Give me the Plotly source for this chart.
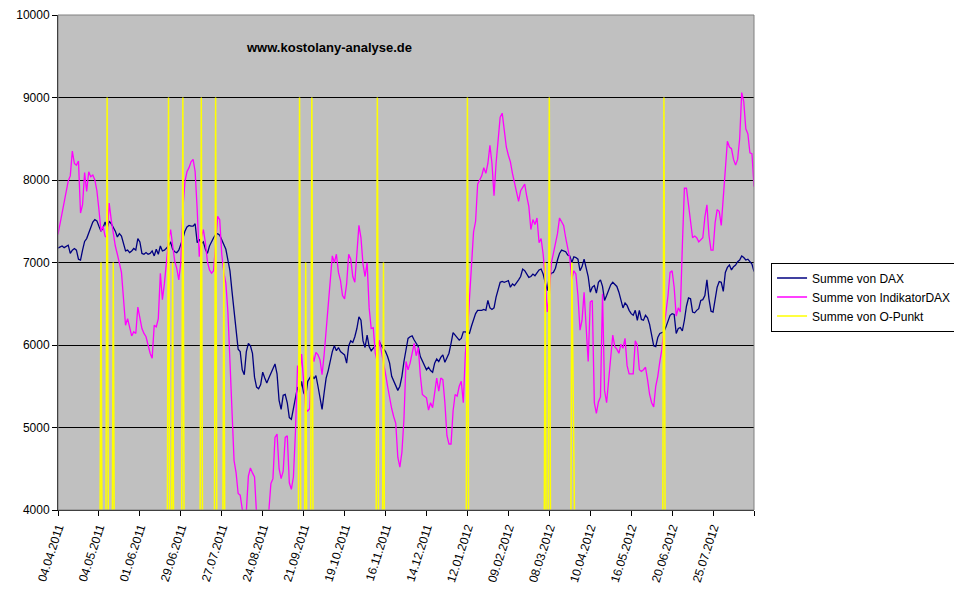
import plotly.graph_objects as go

# Trading-day index (category position) and tick labels every 20 days
tick_labels = ["04.04.2011", "04.05.2011", "01.06.2011", "29.06.2011", "27.07.2011",
               "24.08.2011", "21.09.2011", "19.10.2011", "16.11.2011", "14.12.2011",
               "12.01.2012", "09.02.2012", "08.03.2012", "10.04.2012", "16.05.2012",
               "20.06.2012", "25.07.2012", ""]
tick_step = 20
y_ticks = [4000, 5000, 6000, 7000, 8000, 9000, 10000]

dax = [7175, 7190, 7200, 7180, 7200, 7210, 7110, 7150, 7170, 7150,
       7040, 7030, 7150, 7255, 7290, 7360, 7430, 7490, 7520, 7505,
       7440, 7380, 7420, 7490, 7420, 7500, 7470, 7430, 7380, 7310,
       7350, 7320, 7240, 7140, 7150, 7120, 7140, 7170, 7150, 7290,
       7250, 7110, 7100, 7120, 7100, 7110, 7140, 7080, 7160, 7100,
       7200, 7140, 7150, 7180, 7200, 7250, 7160, 7130, 7120, 7150,
       7210, 7290, 7380, 7430, 7450, 7440, 7440, 7470, 7240, 7280,
       7230, 7250, 7160, 7110, 7200, 7260, 7300, 7340, 7350, 7330,
       7280, 7220, 7160, 7030, 6900, 6650, 6400, 6200, 5950, 5920,
       5700, 5640, 5920, 6020, 5990, 5900, 5610, 5490, 5470, 5520,
       5670, 5600, 5540, 5600, 5660, 5700, 5770, 5650, 5330, 5220,
       5390, 5400, 5300, 5120, 5100, 5230, 5350, 5490, 5430, 5560,
       5420, 5380, 5560, 5600, 5640, 5590, 5630, 5500, 5380, 5220,
       5420, 5600, 5690, 5820, 5920, 5990, 5930, 5970, 5920, 5900,
       5880, 5780, 5990, 6050, 6030, 6100, 6200, 6340, 6300, 6050,
       5970, 6120, 5980, 5930, 5960, 5990, 6000, 6040, 5990, 5960,
       5920, 5860, 5780, 5620, 5560, 5510, 5450, 5500, 5620, 5800,
       5960, 6080, 6100, 6110, 6060, 6020, 5980, 5860, 5800, 5760,
       5700, 5730, 5690, 5670, 5780, 5830, 5800, 5850, 5880, 5790,
       5840, 5900, 6020, 6150, 6120, 6090, 6060, 6080, 6160, 6160,
       6150, 6140, 6230, 6320, 6380, 6420, 6420, 6420, 6430, 6420,
       6540, 6450, 6430, 6450, 6580, 6680, 6760, 6770, 6760, 6770,
       6780, 6700, 6740, 6720, 6750, 6790, 6830, 6920, 6900, 6860,
       6820, 6830, 6860, 6840, 6880, 6910, 6920, 6860, 6760, 6660,
       6830, 6870, 6880, 6930, 7030, 7110, 7150, 7140, 7130, 7090,
       7080, 7000, 7070, 7060, 7040, 6900, 6950, 7040, 6950, 6830,
       6640, 6700, 6720, 6630, 6760, 6790, 6710, 6540, 6600, 6680,
       6730, 6760, 6740, 6710, 6640, 6560, 6450, 6510, 6480, 6420,
       6380, 6360, 6420, 6300, 6420, 6310, 6300, 6360, 6330, 6250,
       6140, 5990, 5980, 6090, 6140, 6150, 6160, 6220, 6280, 6360,
       6380, 6370, 6140, 6200, 6210, 6170, 6300, 6470, 6570, 6560,
       6400, 6390, 6420, 6440, 6540, 6550, 6600, 6790, 6560, 6410,
       6400, 6550, 6700, 6770, 6760, 6650, 6880, 6940, 6970, 6910,
       6950, 6970, 7010, 7030, 7080, 7060, 7030, 7040, 7010, 6980,
       6890]

indikator = [7340, 7480, 7600, 7750, 7860, 7990, 8050, 8350, 8200, 8180,
             8230, 7600, 7700, 8090, 7860, 8100, 8040, 8060, 8000, 7870,
             7640, 7380, 7440, 7320, 7300, 7720, 7520, 7330, 7200, 7100,
             6980, 6880, 6560, 6240, 6320, 6200, 6110, 6160, 6140, 6460,
             6350, 6200, 6140, 6100, 6000, 5900, 5840, 6240, 6220, 6320,
             6870, 6550, 6750, 7000, 7270, 7400, 7200, 7020, 6930, 6790,
             7000, 7650, 7980, 8100, 8150, 8220, 8250, 8100, 7640, 7070,
             7300, 7400, 7240, 7010, 6910, 6870, 6900, 7250, 7560, 7520,
             7100, 6880, 6750, 6400, 5800, 5200, 4600, 4450, 4200, 4180,
             4010, 3950, 3980, 4410, 4510, 4450, 4400, 3950, 3850, 3820,
             3800, 3850, 3900, 3990, 4320, 4380, 4880, 4920, 4500, 4380,
             4470, 4880, 4900, 4330, 4250, 4400, 4950, 5750, 5600, 5890,
             5480, 5220, 5200, 5230, 5920, 5800, 5910, 5880, 5820, 5640,
             5880, 6200, 6500, 6760, 7080, 7000, 7100, 6880, 6780, 6600,
             6560, 6740, 7100, 7040, 6830, 6760, 7150, 7450, 7300, 6980,
             6830, 7000, 6450, 6200, 6210, 5900, 5790, 6060, 5920, 5800,
             5650, 5500, 5350, 5230, 5130, 5050, 4640, 4520, 4700, 5100,
             5800, 5700, 5780, 5920, 6020, 5870, 5970, 5630, 5400, 5380,
             5360, 5210, 5300, 5240, 5450, 5600, 5440, 5600, 5580, 5300,
             4900, 4800, 4800, 5200, 5400, 5380, 5500, 5560, 5300, 5900,
             6150, 6600, 6900, 7370, 7500, 7950, 8000, 8050, 8150, 8080,
             8200, 8420, 8200, 7810, 8200, 8450, 8760, 8810, 8600, 8400,
             8300, 8220, 8080, 7960, 7820, 7740, 7870, 7920, 7950, 7800,
             7680, 7400, 7520, 7460, 7540, 7240, 7290, 7100, 6820, 6400,
             6600, 6990, 7100, 7250, 7350, 7540, 7500, 7450, 7300, 7150,
             7050, 6800, 6900, 6860, 6600, 6180, 6300, 6640, 6150, 5800,
             6520, 6540, 5300, 5170, 5310, 5370, 6620, 5450, 5300, 5550,
             5870, 6120, 5980, 5950, 5900, 6010, 5960, 6080, 5750, 5650,
             5650, 5650, 6050, 6000, 5700, 5680, 5700, 5730, 5580, 5400,
             5300, 5250, 5500, 5620, 5800, 5950, 6200, 6400, 6600, 6880,
             6900, 6700, 6350, 6450, 6400, 7200, 7900, 7900, 7700, 7500,
             7300, 7320, 7300, 7250, 7280, 7300, 7550, 7700, 7330, 7150,
             7150, 7480, 7640, 7620, 7450, 7800, 8100, 8470, 8400, 8380,
             8250, 8180, 8250, 8500, 9060, 8950, 8620, 8560, 8330, 8320,
             7920]

# O-Punkt signal days (index) and their values; all other days are 0
opunkt_days = [21, 24, 27, 54, 56, 61, 70, 77, 81, 118, 121, 124,
               156, 159, 200, 238, 240, 251, 296]
opunkt_vals = [7000, 9000, 7000, 9000, 7000, 9000, 9000, 9000, 7000, 9000, 7000, 9000,
               9000, 7000, 9000, 7000, 9000, 7000, 9000]

n = len(dax)
x = list(range(n))
opunkt = [0] * n
for d, v in zip(opunkt_days, opunkt_vals):
    opunkt[d] = v

FONT = "Arial, Liberation Sans, sans-serif"

fig = go.Figure()
fig.add_trace(go.Scatter(x=x, y=dax, mode="lines", name="Summe von DAX",
                         line=dict(color="#000080", width=1.3)))
fig.add_trace(go.Scatter(x=x, y=indikator, mode="lines", name="Summe von IndikatorDAX",
                         line=dict(color="#FF00FF", width=1.3)))
fig.add_trace(go.Scatter(x=x, y=opunkt, mode="lines", name="Summe von O-Punkt",
                         line=dict(color="#FFFF00", width=1.5)))

tickvals = list(range(0, n, tick_step))

# page body has an 8px margin, so the figure is 8px smaller and offsets shifted
fig.update_layout(
    width=954, height=588,
    margin=dict(l=50, r=208, t=7, b=86, autoexpand=False),
    paper_bgcolor="white",
    plot_bgcolor="#C0C0C0",
    font=dict(family=FONT, size=12, color="black"),
    showlegend=True,
    legend=dict(x=1.0245, y=0.5, xanchor="left", yanchor="top",
                bgcolor="white", bordercolor="black", borderwidth=1,
                font=dict(family=FONT, size=12, color="black"),
                itemwidth=30, tracegroupgap=0),
    xaxis=dict(range=[0, n - 1], tickmode="array", tickvals=tickvals,
               ticktext=tick_labels[:len(tickvals)], tickangle=-72,
               showgrid=False, zeroline=False, showline=True, linecolor="black",
               linewidth=1, ticks="outside", ticklen=5, tickcolor="black",
               automargin=False,
               tickfont=dict(family=FONT, size=12, color="black")),
    yaxis=dict(range=[4000, 10000], tickmode="array",
               tickvals=y_ticks, ticktext=[str(v) for v in y_ticks],
               showgrid=True, gridcolor="black", gridwidth=1, zeroline=False,
               showline=True, linecolor="black", linewidth=1,
               ticks="outside", ticklen=5, tickcolor="black",
               automargin=False,
               tickfont=dict(family=FONT, size=12, color="black")),
    shapes=[dict(type="rect", xref="paper", yref="paper", x0=0, x1=1, y0=0, y1=1,
                 line=dict(color="#808080", width=1), fillcolor="rgba(0,0,0,0)",
                 layer="above")],
    annotations=[dict(text="<b>www.kostolany-analyse.de</b>", xref="paper", yref="paper",
                      x=0.389, y=0.935, xanchor="center", yanchor="middle",
                      showarrow=False,
                      font=dict(family=FONT, size=13, color="black"))],
)

fig.write_html("out.html")
